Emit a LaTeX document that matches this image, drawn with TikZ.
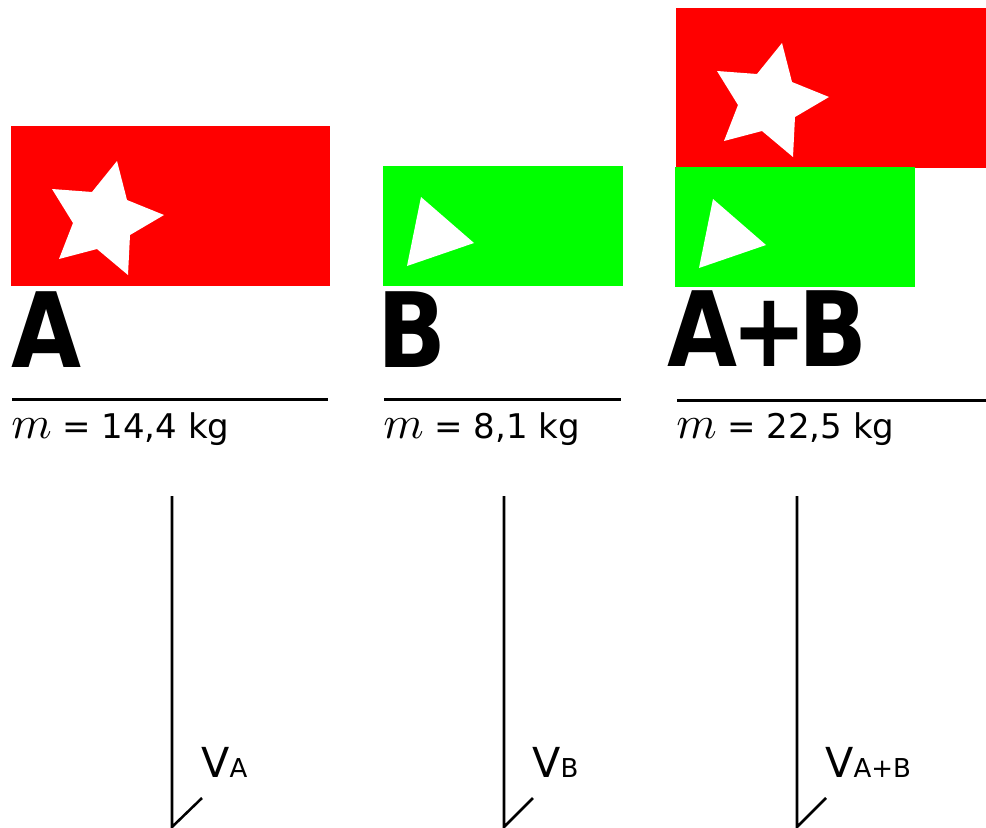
\documentclass[tikz,border=0pt]{standalone}
\usepackage{graphicx}
\usepackage{fontspec}
\setmainfont{DejaVu Sans}
\newfontfamily\bigbold[FakeStretch=0.87]{DejaVu Sans Bold}
\definecolor{flagred}{RGB}{255,0,0}
\definecolor{flaggreen}{RGB}{0,255,0}
\begin{document}
\begin{tikzpicture}[x=0.75pt,y=-0.75pt,
  bigname/.style={anchor=base west,inner sep=0,font=\bigbold\fontsize{78}{80}\selectfont},
  masstext/.style={anchor=base west,inner sep=0,font=\fontsize{25.5}{28}\selectfont},
  vlabel/.style={anchor=base west,inner sep=0,font=\fontsize{31}{34}\selectfont},
  rule/.style={line width=2.25pt},
  vline/.style={line width=1.9pt},
  redflag/.style={fill=flagred},
  greenflag/.style={fill=flaggreen}]
\useasboundingbox (0,0) rectangle (986,828);
\newcommand{\mystar}{(117,161) -- (127,200) -- (164,215) -- (130,235) -- (128,275) -- (97,249) -- (59,259) -- (73,223) -- (52,189) -- (92,192) -- cycle}
\newcommand{\mytri}{(421,197) -- (474,243) -- (407,266) -- cycle}
\newcommand{\masstxt}[1]{\scalebox{3.45}{\fontsize{10}{12}\selectfont$m$} = #1 kg}
\newcommand{\subl}[1]{{\fontsize{19.5}{22}\selectfont #1}}
% A
\fill[redflag] (11,126) rectangle (330,286);
\fill[white] \mystar;
\node[bigname] (la) at (11,367) {A};
\draw[rule] (12,399) -- (328,399);
\node[masstext] (ma) at (11,438) {\masstxt{14,4}};
% B
\fill[greenflag] (383,166) rectangle (623,286);
\fill[white] \mytri;
\node[bigname] (lb) at (377,367) {B};
\draw[rule] (384,399) -- (621,399);
\node[masstext] (mb) at (383,438) {\masstxt{8,1}};
% A+B
\fill[redflag] (676,8) rectangle (986,168);
\begin{scope}[shift={(665,-118)}]
\fill[white] \mystar;
\end{scope}
\fill[greenflag] (675,167) rectangle (915,287);
\begin{scope}[shift={(292,2)}]
\fill[white] \mytri;
\end{scope}
\node[bigname] (lab) at (667,366) {A\kern-4.5pt+\kern-6.5pt B};
\draw[rule] (677,400) -- (986,400);
\node[masstext] (mab) at (676,438) {\masstxt{22,5}};
% vectors
\coordinate (ta) at (172,496); \coordinate (ba) at (172,827); \coordinate (ea) at (202,798);
\coordinate (tb) at (504,496); \coordinate (bb) at (504,827); \coordinate (eb) at (533,798);
\coordinate (tab) at (797,496); \coordinate (bab) at (797,827); \coordinate (eab) at (826,798);
\draw[vline] (ta) -- (ba) -- (ea);
\draw[vline] (tb) -- (bb) -- (eb);
\draw[vline] (tab) -- (bab) -- (eab);
\node[vlabel] (va) at (201,777) {V\subl{A}};
\node[vlabel] (vb) at (532,777) {V\subl{B}};
\node[vlabel] (vab) at (825,777) {V\subl{A+B}};
\end{tikzpicture}
\end{document}
